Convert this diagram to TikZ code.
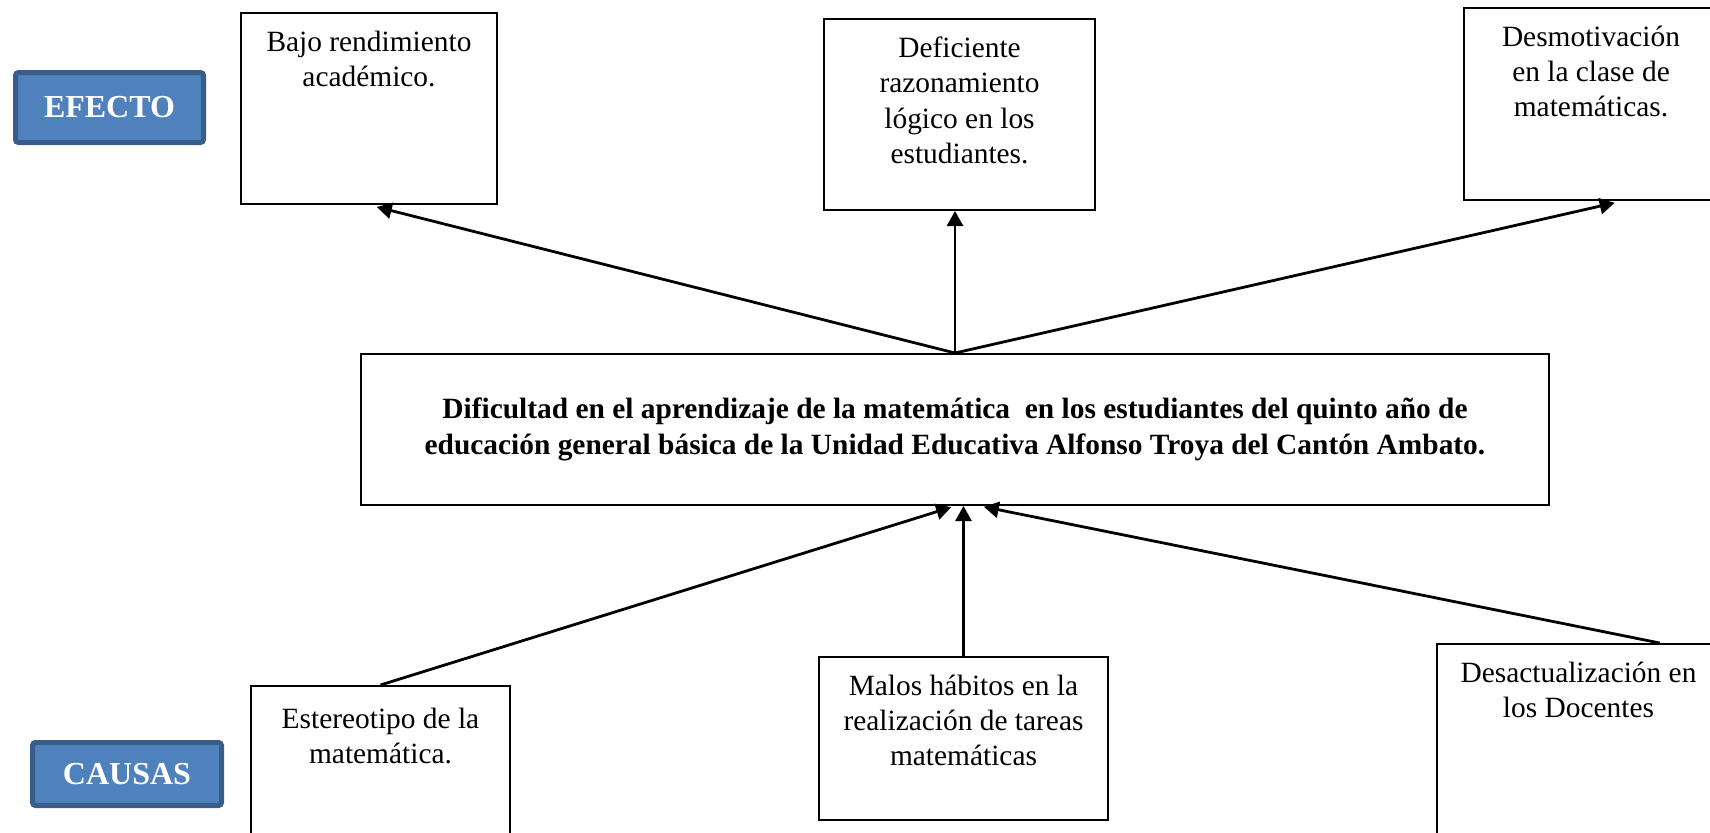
\documentclass[tikz,border=0pt]{standalone}
\usepackage{fontspec}
\setmainfont{Liberation Serif}
\usetikzlibrary{arrows.meta}

\definecolor{tagfill}{RGB}{79,129,189}
\definecolor{tagdraw}{RGB}{56,93,138}
\newcommand{\boxtxt}[3]{\parbox[t][#2][t]{#1}{\centering\vspace*{9pt}#3}}

\begin{document}
\begin{tikzpicture}[x=0.5pt,y=-0.5pt]
\useasboundingbox (0,0) rectangle (1710,832);
\clip (0,0) rectangle (1710,832);

\begin{scope}[every node/.style={draw,line width=1pt,inner sep=0pt,
              font=\fontsize{14.7}{17.6}\selectfont}]
    \node (bajo) at (369,108.5) {\boxtxt{128pt}{95.5pt}{Bajo rendimiento\\académico.}};
    \node (defic) at (959.5,114.5) {\boxtxt{135.5pt}{95.5pt}{Deficiente\\razonamiento\\lógico en los\\estudiantes.}};
    \node (desmot) at (1591,104) {\boxtxt{127pt}{96pt}{Desmotivación\\en la clase de\\matemáticas.}};
    \node[minimum width=594pt, minimum height=75.5pt, align=center,
          font=\bfseries\fontsize{14.7}{18}\selectfont] (central) at (955,429.5)
        {Dificultad en el aprendizaje de la matemática\ \ en los estudiantes del quinto año de\\
         educación general básica de la Unidad Educativa Alfonso Troya del Cantón Ambato.};
    \node (estereo) at (380.5,771) {\boxtxt{129.5pt}{85pt}{\vspace*{2pt}Estereotipo de la\\matemática.}};
    \node (malos) at (963.5,738.5) {\boxtxt{144.5pt}{81.5pt}{Malos hábitos en la\\realización de tareas\\matemáticas}};
    \node (desact) at (1578.5,747) {\boxtxt{141.5pt}{103pt}{Desactualización en\\los Docentes}};
\end{scope}

\begin{scope}[every node/.style={fill=tagfill,draw=tagdraw,line width=2.5pt,
              rounded corners=1.5pt,text=white,minimum height=35pt,
              font=\bfseries\fontsize{16}{19}\selectfont}]
    \node[minimum width=94pt] (efecto) at (109.5,107.5) {EFECTO};
    \node[minimum width=94.5pt,minimum height=31.5pt] (causas) at (127,774) {CAUSAS};
\end{scope}

\begin{scope}[>={Triangle[length=7.5pt,width=8pt]},
              every edge/.style={draw=black,line width=1.4pt}]
    \path [->] (central.north) edge[shorten >=4pt] (bajo.south);
    \path [->] (central.north) edge (central.north |- defic.south);
    \path [->] (central.north) edge[shorten >=4pt] (desmot.-72);

    \path [->] (estereo.north) edge[shorten >=2pt] (central.south);
    \path [->] (malos.north) edge (malos.north |- central.south);
    \path [->] (desact.52) edge[shorten >=2pt] (central.-72);
\end{scope}
\end{tikzpicture}
\end{document}
